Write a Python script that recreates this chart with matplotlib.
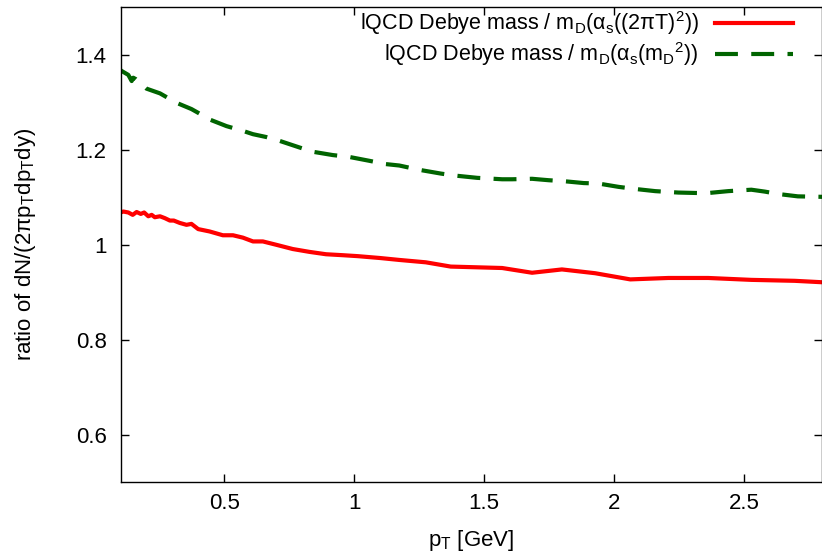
import matplotlib

matplotlib.use("Agg")
import matplotlib.pyplot as plt
from matplotlib.lines import Line2D

plt.rcParams["font.family"] = ["Liberation Sans", "DejaVu Sans"]
plt.rcParams["mathtext.fontset"] = "custom"
plt.rcParams["mathtext.rm"] = "Liberation Sans"
plt.rcParams["mathtext.it"] = "Liberation Sans:italic"
plt.rcParams["mathtext.default"] = "regular"

# red: lQCD Debye mass / m_D(alpha_s((2 pi T)^2))
pt_red = [0.10, 0.111, 0.130, 0.147, 0.162, 0.178, 0.191, 0.207, 0.220, 0.232, 0.252,
          0.271, 0.290, 0.305, 0.328, 0.354, 0.373, 0.399, 0.443, 0.494, 0.533, 0.571,
          0.610, 0.648, 0.699, 0.763, 0.827, 0.891, 0.955, 1.013, 1.10, 1.173, 1.275,
          1.371, 1.569, 1.684, 1.799, 1.927, 2.062, 2.209, 2.362, 2.528, 2.695, 2.80]
ratio_red = [1.068, 1.070, 1.068, 1.063, 1.069, 1.065, 1.068, 1.060, 1.063, 1.058, 1.060,
             1.056, 1.051, 1.051, 1.046, 1.042, 1.044, 1.033, 1.028, 1.020, 1.020, 1.015,
             1.007, 1.007, 1.000, 0.991, 0.985, 0.980, 0.978, 0.976, 0.972, 0.968, 0.963,
             0.954, 0.951, 0.941, 0.948, 0.940, 0.927, 0.930, 0.930, 0.926, 0.924, 0.921]

# green: lQCD Debye mass / m_D(alpha_s(m_D^2))
pt_green = [0.10, 0.105, 0.130, 0.143, 0.149, 0.159, 0.200, 0.252, 0.316, 0.373, 0.399,
            0.443, 0.508, 0.571, 0.610, 0.661, 0.712, 0.789, 0.840, 0.917, 0.981, 1.057,
            1.121, 1.173, 1.249, 1.333, 1.384, 1.473, 1.569, 1.607, 1.684, 1.748, 1.806,
            1.883, 1.940, 2.017, 2.074, 2.158, 2.247, 2.324, 2.362, 2.439, 2.528, 2.580,
            2.631, 2.707, 2.80]
ratio_green = [1.368, 1.366, 1.358, 1.345, 1.352, 1.349, 1.329, 1.319, 1.299, 1.286, 1.278,
               1.264, 1.250, 1.240, 1.233, 1.227, 1.219, 1.205, 1.196, 1.189, 1.185, 1.177,
               1.170, 1.167, 1.158, 1.150, 1.146, 1.141, 1.138, 1.138, 1.139, 1.136, 1.134,
               1.130, 1.129, 1.122, 1.118, 1.113, 1.110, 1.109, 1.109, 1.113, 1.116, 1.112,
               1.107, 1.102, 1.101]

labels = [
    r"lQCD Debye mass / m$_D$($\alpha_s$((2$\pi$T)$^2$))",
    r"lQCD Debye mass / m$_D$($\alpha_s$(m$_D$$^2$))",
]
x_ticks = [0.5, 1, 1.5, 2, 2.5]
y_ticks = [0.6, 0.8, 1, 1.2, 1.4]

FS = 16

fig = plt.figure(figsize=(8.22, 5.55), dpi=100)
ax = fig.add_axes([0.1466, 0.1315, 0.8534, 0.855])

ax.plot(pt_red, ratio_red, color="#ff0000", lw=3, solid_joinstyle="round")
ax.plot(pt_green, ratio_green, color="#006400", lw=3, dashes=(5.5, 3.2))

ax.set_xlim(0.1, 2.8)
ax.set_ylim(0.5, 1.5)
ax.set_xticks(x_ticks, labels=["0.5", "1", "1.5", "2", "2.5"])
ax.set_yticks(y_ticks, labels=["0.6", "0.8", "1", "1.2", "1.4"])
ax.tick_params(direction="in", length=6, width=1, top=True, right=True, labelsize=FS)
ax.tick_params(axis="x", pad=8)
ax.tick_params(axis="y", pad=10)
for s in ax.spines.values():
    s.set_linewidth(1.0)

ax.set_xlabel(r"p$_T$ [GeV]", fontsize=FS, labelpad=10)
ax.set_ylabel(r"ratio of dN/(2$\pi$p$_T$dp$_T$dy)", fontsize=FS, labelpad=27)

# legend drawn by hand: right-aligned text, sample line on the right
rows_y = [0.968, 0.902]
for lab, yy, col, ds in zip(labels, rows_y, ["#ff0000", "#006400"], [None, (5.5, 3.2)]):
    ax.text(0.824, yy, lab, transform=ax.transAxes, ha="right", va="center", fontsize=15.5)
    ln = Line2D([0.847, 0.959], [yy, yy], transform=ax.transAxes, color=col, lw=3)
    if ds:
        ln.set_dashes(ds)
    ax.add_line(ln)

fig.savefig("out.png", dpi=100)
